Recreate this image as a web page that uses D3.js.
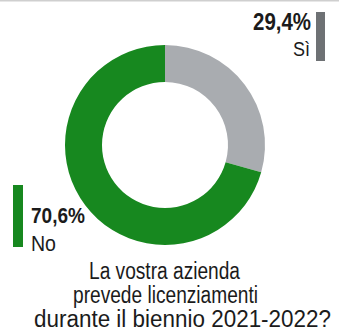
<!DOCTYPE html>
<html>
<head>
<meta charset="utf-8">
<script src="https://cdn.jsdelivr.net/npm/d3@7/dist/d3.min.js"></script>
<style>
  html, body { margin: 0; padding: 0; background: #ffffff; }
  svg { display: block; }
  text { font-family: "Liberation Sans Narrow", "Arial Narrow", "Liberation Sans", Arial, sans-serif; fill: #1b1b1b; }
</style>
</head>
<body>
<svg id="chart" width="339" height="336"></svg>
<script>
// Answers to the survey question, in drawing order (clockwise from 12 o'clock)
const answers = ["Sì", "No"];
const shares = [29.4, 70.6];
const shareLabels = ["29,4%", "70,6%"];
const answerColors = ["#a9acb0", "#17881f"];
const keyColors = ["#6e7174", "#17881f"];
const questionLines = [
  "La vostra azienda",
  "prevede licenziamenti",
  "durante il biennio 2021-2022?"
];

const W = 339, H = 336;
const svg = d3.select("#chart");

// thin rule along the top edge
svg.append("rect").attr("x", 0).attr("y", 0).attr("width", W).attr("height", 1.5).attr("fill", "#cfcfcf");

// donut
const cx = 165, cy = 145, rOuter = 100, rInner = 63;
const pie = d3.pie().sort(null).value(d => d.v).startAngle(0).endAngle(2 * Math.PI);
const arc = d3.arc().innerRadius(rInner).outerRadius(rOuter);
const data = answers.map((a, i) => ({ a, v: shares[i], i }));

svg.append("g")
  .attr("transform", `translate(${cx},${cy})`)
  .selectAll("path")
  .data(pie(data))
  .join("path")
  .attr("d", arc)
  .attr("fill", d => answerColors[d.data.i]);

// squeeze a text element into a given width
function fit(sel, w) {
  sel.attr("textLength", w).attr("lengthAdjust", "spacingAndGlyphs");
  return sel;
}

// legend key: "Sì" at top right, right-aligned with a bar after it
const kSi = svg.append("g");
kSi.append("rect").attr("x", 316).attr("y", 12).attr("width", 9).attr("height", 49).attr("fill", keyColors[0]);
fit(kSi.append("text").attr("x", 253).attr("y", 29.5).attr("font-size", 23).attr("font-weight", "bold").text(shareLabels[0]), 58);
fit(kSi.append("text").attr("x", 293).attr("y", 56).attr("font-size", 20).text(answers[0]), 17);

// legend key: "No" at lower left, bar before the text
const kNo = svg.append("g");
kNo.append("rect").attr("x", 13).attr("y", 185).attr("width", 10).attr("height", 62).attr("fill", keyColors[1]);
fit(kNo.append("text").attr("x", 31).attr("y", 222.5).attr("font-size", 22).attr("font-weight", "bold").text(shareLabels[1]), 54);
fit(kNo.append("text").attr("x", 31).attr("y", 250.5).attr("font-size", 22).text(answers[1]), 25);

// the question
const qLeft = [89, 73, 34];
const qWidth = [151, 185, 297];
const qBase = [279, 303, 327];
svg.append("g").selectAll("text")
  .data(questionLines)
  .join("text")
  .attr("x", (d, i) => qLeft[i])
  .attr("y", (d, i) => qBase[i])
  .attr("font-size", 23)
  .text(d => d)
  .each(function(d, i) { fit(d3.select(this), qWidth[i]); });
</script>
</body>
</html>
